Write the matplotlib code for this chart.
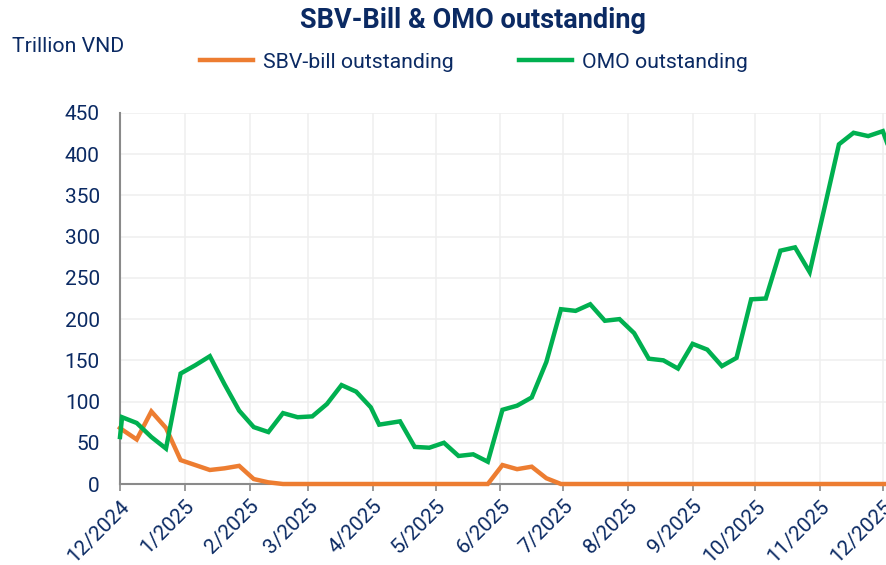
import matplotlib
matplotlib.use("Agg")
import matplotlib.pyplot as plt
import pandas as pd

dates = ["2024-12-01", "2024-12-02", "2024-12-09", "2024-12-16", "2024-12-23", "2024-12-30",
         "2025-01-06", "2025-01-13", "2025-01-20", "2025-01-27", "2025-02-03", "2025-02-10",
         "2025-02-17", "2025-02-24", "2025-03-03", "2025-03-10", "2025-03-17", "2025-03-24",
         "2025-03-31", "2025-04-04", "2025-04-14", "2025-04-21", "2025-04-28", "2025-05-05",
         "2025-05-12", "2025-05-19", "2025-05-26", "2025-06-02", "2025-06-09", "2025-06-16",
         "2025-06-23", "2025-06-30", "2025-07-07", "2025-07-14", "2025-07-21", "2025-07-28",
         "2025-08-04", "2025-08-11", "2025-08-18", "2025-08-25", "2025-09-01", "2025-09-08",
         "2025-09-15", "2025-09-22", "2025-09-29", "2025-10-06", "2025-10-13", "2025-10-20",
         "2025-10-27", "2025-11-03", "2025-11-10", "2025-11-17", "2025-11-24", "2025-12-01",
         "2025-12-03"]

sbv_bill = [68, 66, 54, 88, 68, 29,
            23, 17, 19, 22, 6, 2,
            0, 0, 0, 0, 0, 0,
            0, 0, 0, 0, 0, 0,
            0, 0, 0, 23, 18, 21,
            7, 0, 0, 0, 0, 0,
            0, 0, 0, 0, 0, 0,
            0, 0, 0, 0, 0, 0,
            0, 0, 0, 0, 0, 0,
            0]

omo = [57, 81, 74, 57, 43, 134,
       144, 155, 121, 89, 69, 63,
       86, 81, 82, 97, 120, 112,
       93, 72, 76, 45, 44, 50,
       34, 36, 27, 90, 95, 105,
       148, 212, 210, 218, 198, 200,
       183, 152, 150, 140, 170, 163,
       143, 153, 224, 225, 283, 287,
       257, 334, 412, 426, 422, 428,
       414]

month_ticks = pd.date_range("2024-12-01", "2025-12-01", freq="MS")
month_labels = [f"{d.month}/{d.year}" for d in month_ticks]
y_ticks = list(range(0, 451, 50))

navy = "#0b2a63"
orange = "#ED7D31"
green = "#00B050"

plt.rcParams['font.family'] = ['Roboto', 'DejaVu Sans']

fig = plt.figure(figsize=(8.87, 5.65), dpi=100)
ax = fig.add_axes([120/887, 1-484/565, 1-120/887, (484-113)/565])

x = pd.to_datetime(dates)
ax.plot(x, sbv_bill, color=orange, lw=3.2, label="SBV-bill outstanding",
        zorder=3, clip_on=False, solid_joinstyle='miter')
ax.plot(x, omo, color=green, lw=3.2, label="OMO outstanding",
        zorder=4, clip_on=False, solid_joinstyle='miter')

ax.set_xlim(pd.Timestamp("2024-12-01"), pd.Timestamp("2025-12-03"))
ax.set_ylim(0, 450)
ax.set_yticks(y_ticks)
ax.set_xticks(month_ticks)
ax.set_xticklabels(month_labels, rotation=45, ha="right", rotation_mode="anchor")

ax.grid(True, color="#efefef", lw=1.1)
ax.set_axisbelow(True)
for s in ["top", "right"]:
    ax.spines[s].set_visible(False)
for s in ["left", "bottom"]:
    ax.spines[s].set_color("#8a8a8a")
    ax.spines[s].set_linewidth(1.5)

ax.tick_params(axis="y", length=0, pad=14.5, labelsize=15, labelcolor=navy)
ax.tick_params(axis="x", length=5, width=1.2, color="#8a8a8a", pad=4,
               labelsize=15, labelcolor=navy)

fig.text(473/887, 1-21/565, "SBV-Bill & OMO outstanding", ha="center", va="center",
         fontsize=19.5, fontweight="bold", color=navy)
fig.text(12/887, 1-47/565, "Trillion VND", ha="left", va="center",
         fontsize=15.3, color=navy)

leg = fig.legend(loc="center", bbox_to_anchor=(474/887, 1-62/565), ncol=2,
                 frameon=False, fontsize=15.3, handlelength=2.5, handletextpad=0.47,
                 columnspacing=3.1, borderpad=0, borderaxespad=0)
for t in leg.get_texts():
    t.set_color(navy)

fig.savefig("out.png", dpi=100)
